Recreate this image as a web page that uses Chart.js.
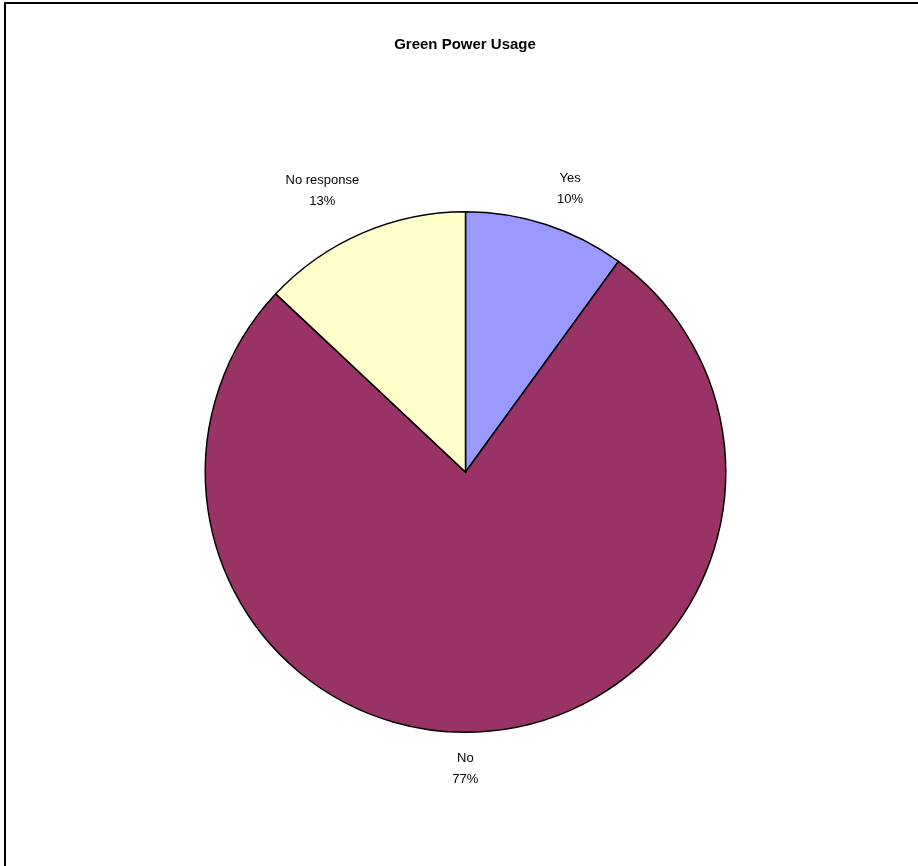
<!DOCTYPE html>
<html>
<head>
<meta charset="utf-8">
<script src="https://cdn.jsdelivr.net/npm/chart.js@4"></script>
<style>
  html, body { margin: 0; padding: 0; background: #fff; overflow: hidden; }
  #frame {
    position: absolute; left: 4px; top: 2px; width: 1000px; height: 1000px;
    border-left: 2px solid #000; border-top: 2px solid #000;
  }
  #wrap { position: absolute; left: 0; top: 0; width: 918px; height: 866px; }
</style>
</head>
<body>
<div id="frame"></div>
<div id="wrap"><canvas id="chart" width="918" height="866"></canvas></div>
<script>
// chart data
const chartTitle = 'Green Power Usage';
const labels = ['Yes', 'No', 'No response'];
const values = [10, 77, 13];
const colors = ['#9999FF', '#993366', '#FFFFCC'];

const FONT = '"Liberation Sans", Arial, sans-serif';

// draws the title and the outside slice labels
const excelLabels = {
  id: 'excelLabels',
  afterDraw(chart) {
    const ctx = chart.ctx;
    const total = values.reduce((a, b) => a + b, 0);
    // excel doesnt put them exactly radial, small shifts per label
    const nudge = [[13, 2], [-28, -2], [-16, -6]];
    ctx.save();
    ctx.fillStyle = '#000';
    ctx.textAlign = 'center';
    ctx.textBaseline = 'middle';
    ctx.font = 'bold 15px ' + FONT;
    ctx.fillText(chartTitle, 465, 45);

    ctx.font = '13px ' + FONT;
    const lineH = 21;
    chart.getDatasetMeta(0).data.forEach((arc, i) => {
      const p = arc.getProps(['x', 'y', 'startAngle', 'endAngle', 'outerRadius'], true);
      const mid = (p.startAngle + p.endAngle) / 2;
      const dx = Math.cos(mid), dy = Math.sin(mid);
      const pct = Math.round(values[i] / total * 100) + '%';
      const w = Math.max(ctx.measureText(labels[i]).width, ctx.measureText(pct).width);
      const h = lineH + 13;
      const ax = p.x + dx * (p.outerRadius + 23);
      const ay = p.y + dy * (p.outerRadius + 23);
      const cx = ax + dx * w / 2 + nudge[i][0];
      const cy = ay + dy * h / 2 + nudge[i][1];
      ctx.fillText(labels[i], cx, cy - lineH / 2);
      ctx.fillText(pct, cx, cy + lineH / 2);
    });
    ctx.restore();
  }
};

new Chart(document.getElementById('chart'), {
  type: 'pie',
  data: {
    labels: labels,
    datasets: [{
      data: values,
      backgroundColor: colors,
      borderColor: '#000',
      borderWidth: 1.5,
      borderJoinStyle: 'miter'
    }]
  },
  options: {
    responsive: false,
    animation: false,
    layout: { padding: { left: 204.5, right: 191.5, top: 211, bottom: 133 } },
    plugins: {
      legend: { display: false },
      title: { display: false },
      tooltip: { enabled: false }
    }
  },
  plugins: [excelLabels]
});
</script>
</body>
</html>
